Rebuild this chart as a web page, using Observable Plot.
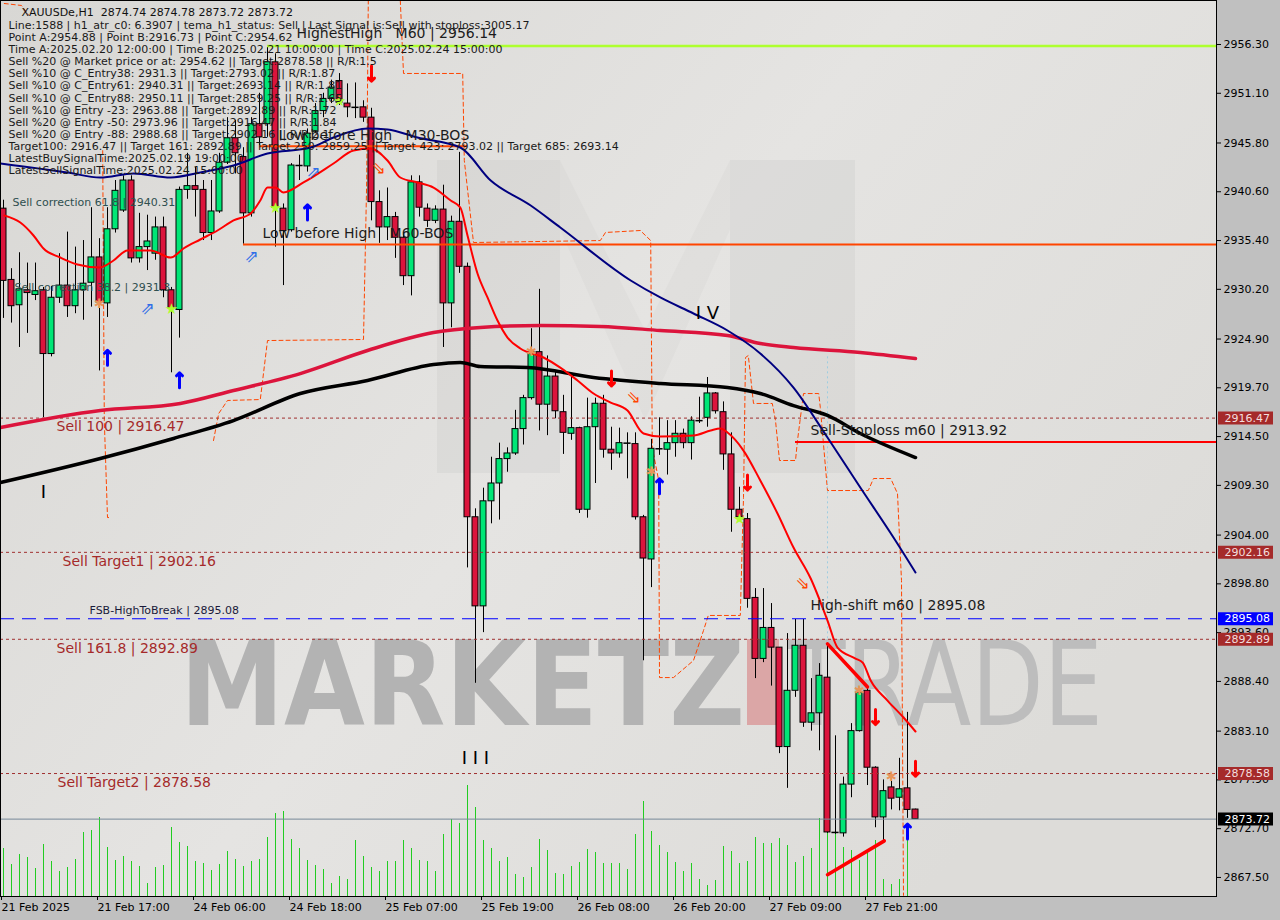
<!DOCTYPE html>
<html><head><meta charset="utf-8">
<script src="https://cdn.jsdelivr.net/npm/d3@7"></script>
<script src="https://cdn.jsdelivr.net/npm/@observablehq/plot@0.6"></script>
<style>
html,body{margin:0;padding:0;background:#c0c0c0;overflow:hidden}
#chart svg{display:block}
#chart text{white-space:pre}
</style></head><body><div id="chart"></div>
<script>
// ---------- DATA ----------
const opens  = [2938.8,2931.2,2928.5,2930.1,2929.6,2930.1,2923.3,2929.3,2930.6,2928.4,2930.1,2930.9,2933.6,2928.7,2936.6,2938.6,2941.8,2933.5,2934.7,2934.0,2936.8,2930.1,2928.0,2940.8,2941.2,2940.8,2936.2,2938.5,2943.7,2946.3,2944.3,2938.3,2947.8,2947.8,2954.4,2938.8,2936.5,2943.4,2943.3,2947.0,2949.2,2950.5,2952.4,2950.0,2949.6,2949.6,2948.5,2939.5,2936.8,2937.9,2935.7,2931.6,2941.6,2938.8,2937.5,2938.7,2928.7,2937.4,2932.6,2905.9,2896.4,2907.6,2909.5,2912.1,2912.7,2915.3,2918.6,2923.5,2917.9,2920.9,2917.1,2914.8,2915.4,2906.7,2915.5,2918.0,2913.1,2912.7,2913.8,2913.7,2905.9,2901.4,2913.2,2913.1,2913.8,2914.8,2913.8,2916.2,2916.5,2919.1,2917.1,2912.6,2906.7,2905.7,2897.3,2890.8,2894.1,2892.0,2881.4,2887.4,2892.2,2884.0,2885.0,2888.8,2872.3,2872.2,2877.4,2883.1,2887.4,2879.2,2873.9,2877.1,2876.0,2877.0,2874.74];
const highs  = [2939.7,2932.4,2934.1,2933.0,2933.0,2930.4,2930.5,2934.0,2936.3,2934.7,2935.4,2938.9,2935.6,2938.9,2941.8,2942.3,2942.3,2938.3,2938.1,2937.9,2937.9,2930.4,2941.1,2944.7,2943.2,2941.8,2941.8,2944.7,2948.5,2948.2,2945.3,2948.5,2951.1,2956.14,2955.3,2939.3,2943.6,2944.5,2947.3,2950.0,2951.1,2952.5,2953.2,2952.1,2952.2,2950.3,2949.5,2940.7,2941.0,2938.4,2936.2,2942.3,2942.3,2939.3,2939.1,2941.3,2938.0,2944.8,2933.0,2906.8,2909.0,2912.3,2913.8,2913.3,2917.3,2918.9,2926.0,2930.2,2923.1,2921.5,2918.9,2921.0,2915.5,2918.6,2918.6,2918.9,2915.5,2915.4,2914.9,2914.9,2906.1,2914.2,2916.5,2916.2,2916.2,2915.3,2916.6,2918.7,2920.8,2919.2,2918.2,2914.9,2909.1,2906.3,2898.3,2898.3,2896.7,2892.0,2893.5,2895.0,2895.0,2888.7,2890.3,2892.4,2882.6,2878.2,2883.9,2887.8,2887.8,2879.3,2877.9,2878.2,2880.2,2885.1,2874.78];
const lows   = [2927.1,2926.6,2924.0,2925.5,2929.0,2916.5,2923.0,2928.7,2927.2,2927.6,2926.9,2928.3,2921.5,2927.2,2936.2,2938.4,2933.0,2933.0,2932.2,2933.3,2929.3,2921.3,2925.0,2939.8,2937.9,2935.4,2935.4,2938.3,2943.5,2942.5,2935.0,2937.9,2945.5,2946.4,2934.7,2930.6,2936.3,2941.8,2942.7,2946.8,2948.5,2950.0,2949.8,2948.5,2948.4,2948.0,2937.5,2935.1,2935.4,2933.5,2930.6,2929.5,2937.9,2936.8,2937.2,2924.0,2926.1,2931.9,2900.5,2888.2,2893.6,2905.2,2905.6,2910.7,2912.5,2913.6,2918.4,2915.1,2914.6,2916.4,2912.6,2914.1,2906.3,2905.8,2909.5,2912.2,2910.9,2912.2,2910.0,2905.6,2890.6,2898.4,2912.5,2910.4,2912.3,2913.2,2912.0,2915.9,2915.5,2916.9,2910.9,2904.3,2905.6,2896.2,2888.7,2890.4,2887.9,2880.7,2877.0,2886.7,2883.5,2883.1,2881.0,2872.2,2872.1,2871.8,2876.0,2883.0,2877.3,2872.8,2871.4,2874.7,2874.6,2873.8,2873.72];
const closes = [2931.1,2928.4,2930.2,2929.8,2930.0,2923.3,2929.3,2930.6,2928.4,2930.1,2930.8,2933.6,2928.8,2936.6,2940.7,2941.8,2933.5,2934.7,2935.3,2936.8,2930.1,2928.2,2940.8,2941.2,2940.8,2936.2,2938.5,2943.7,2946.3,2944.7,2938.3,2947.8,2946.4,2954.4,2938.9,2936.4,2943.4,2943.3,2946.8,2949.2,2950.5,2951.7,2950.1,2949.6,2949.5,2948.5,2939.5,2936.8,2937.9,2935.7,2931.6,2941.6,2938.9,2937.5,2938.7,2928.7,2937.4,2932.6,2905.9,2896.4,2907.6,2909.5,2912.1,2912.7,2915.3,2918.6,2923.5,2917.9,2920.9,2917.2,2914.9,2915.4,2906.7,2915.5,2918.0,2913.1,2912.7,2913.8,2913.7,2905.9,2901.5,2913.2,2913.1,2913.8,2914.8,2913.8,2916.2,2916.2,2919.1,2917.2,2912.6,2906.7,2905.9,2897.2,2890.8,2894.1,2892.0,2881.4,2887.4,2892.2,2884.0,2885.0,2889.0,2872.3,2872.2,2877.4,2883.1,2887.2,2879.2,2873.9,2876.7,2875.9,2876.9,2874.7,2873.72];
const volumes = [4830,3230,4200,3900,2800,5200,3530,2500,2900,3700,6370,6600,7900,4900,3600,4000,3500,3000,1300,2870,3130,6900,5370,5030,3470,3270,2600,3200,4470,3700,3000,3500,3700,5930,8300,8500,5700,4770,3600,3100,2700,1330,2000,1670,5570,4030,2900,2470,3500,3500,5600,4830,3600,3500,2530,6200,7730,7300,11100,8900,5600,4770,3500,3900,2170,1900,2930,5700,4570,2270,2230,3000,3430,4670,4430,3270,3270,3270,2700,6170,9500,6530,5100,4430,3430,2530,3270,1730,1100,1600,5000,4500,3270,3500,5930,5330,5270,5800,5100,3430,4000,4770,7770,8770,7930,4930,4600,3600,4600,5600,1700,1200,1730,5930];

const timeTickIdx = [0,12,24,36,48,60,72,84,96,108];
const timeLabels = ["21 Feb 2025","21 Feb 17:00","24 Feb 06:00","24 Feb 18:00","25 Feb 07:00","25 Feb 19:00","26 Feb 08:00","26 Feb 20:00","27 Feb 09:00","27 Feb 21:00"];
const priceTicks = [2956.30,2951.10,2945.80,2940.60,2935.40,2930.20,2924.90,2919.70,2914.50,2909.30,2904.00,2898.80,2893.60,2888.40,2883.10,2877.90,2872.70,2867.50];

// indicator lines: [bar index, price]
const ma100 = [[-0.375,2915.47],[12.1,2917.28],[22.1,2918.03],[28.75,2919.41],[37.1,2921.22],[45.5,2923.68],[53.75,2925.59],[59.6,2926.13],[67.1,2926.34],[74.6,2926.24],[82.1,2925.81],[90.5,2925.28],[94.6,2924.42],[98.75,2923.99],[107.1,2923.46],[114,2922.82]];
const ma200 = [[-0.375,2909.60],[12.1,2912.16],[21.25,2914.30],[28.75,2916.21],[37.1,2919.09],[45.5,2920.48],[53.75,2922.18],[57.1,2922.40],[59.6,2921.97],[65.5,2921.86],[73.75,2920.80],[82.1,2920.16],[90.5,2919.73],[94.6,2919.09],[98.75,2917.81],[103,2916.75],[107.1,2914.83],[114,2912.27]];
const maNavy = [[-0.375,2943.61],[8,2942.65],[12.1,2942.12],[16.25,2942.55],[20.9,2942.12],[24.6,2942.65],[28.75,2943.40],[33,2944.68],[38.4,2945.32],[41.25,2946.38],[45.5,2947.34],[48,2947.24],[51.75,2946.38],[57.1,2945.32],[60.9,2941.80],[65.9,2939.13],[69.6,2936.79],[78.4,2931.14],[82.1,2929.33],[86.25,2927.62],[90.5,2925.81],[94.6,2923.36],[98.75,2919.73],[103,2914.40],[107.1,2909.07],[111.25,2903.74],[114,2900.01]];
const emaRed = [[0.1,2938.07],[2.1,2937.32],[3.75,2935.94],[5,2934.55],[7.1,2933.59],[9.25,2932.84],[12,2932.52],[13.75,2933.27],[15.5,2934.34],[18.4,2934.34],[20.9,2933.59],[22.5,2934.55],[24.6,2935.51],[26.75,2936.47],[28.75,2937.54],[30.9,2938.28],[32.1,2939.67],[33,2941.05],[34,2941.05],[35,2940.52],[37.5,2941.59],[41.25,2943.61],[43.75,2945.00],[45.9,2945.21],[48,2943.93],[49.6,2942.12],[51.75,2941.59],[53.75,2941.05],[55.9,2939.67],[57.1,2938.92],[58,2935.94],[59.25,2931.88],[60.5,2929.33],[61.75,2926.87],[63,2925.06],[64.6,2923.89],[67.5,2922.93],[69.6,2921.86],[71.75,2920.48],[73.75,2919.09],[75.9,2918.13],[78,2917.28],[80,2914.83],[82.1,2914.51],[86.25,2914.62],[88.4,2915.15],[89.6,2915.36],[90.5,2914.93],[92.5,2913.01],[94.6,2909.82],[96.75,2906.30],[98.75,2902.67],[100.9,2899.37],[103,2894.89],[104.25,2892.01],[106.5,2890.84],[107.4,2890.41],[108.4,2888.49],[110.5,2886.36],[112.5,2884.55],[114,2883.06]];
// ATR step channel (dashed)
const stepSegments = [
  [[0.1,2960.67],[2.25,2960.46],[3.1,2959.50]],
  [[12.4,2944.98],[12.6,2916.21],[13,2905.87],[13.5,2905.87]],
  [[26.25,2914.08],[26.9,2916.96],[28,2918.35],[32.1,2918.45],[33,2924.74],[45,2924.85],[45.4,2941.80],[45.6,2960.99]],
  [[49.6,2960.99],[50,2953.21],[57.4,2953.21],[57.6,2943.93],[58.75,2935.19],[74.6,2935.40],[75.25,2936.26],[79.6,2936.47],[80.9,2935.40],[81.1,2913.33],[81.9,2909.82],[82,2888.81],[83.75,2888.81],[86.25,2890.63],[87.5,2893.83],[88.1,2895.43],[92.1,2895.43],[92.5,2908.00],[92.75,2922.93],[93.1,2923.14],[93.75,2918.03],[96.1,2918.03],[96.5,2916.21],[97,2911.95],[99,2911.95],[99.25,2914.08],[100,2919.09],[101.9,2919.09],[102.1,2917.60],[103,2908.75],[108.1,2908.75],[108.75,2910.03],[110.9,2910.03],[111.75,2908.43],[112.25,2899.16],[112.5,2865.6]]
];
const trendLines = [[[103,2892.4],[108,2887.8]],[[103,2867.8],[110.1,2871.4]]];

// levels
const sell100 = 2916.47, sellTarget1 = 2902.16, sell1618 = 2892.89, sellTarget2 = 2878.58;
const fsbHigh = 2895.08, bidPrice = 2873.72;
const highestHigh = 2956.14, m30Bos = 2945.46, m60Bos = 2934.98, stopLoss = 2913.92;
const corr618 = 2940.31, corr382 = 2931.3;
const highestHighBar = 33, m30Start = 32, m30End = 58, m60Start = 30, stopStart = 99, shiftBar = 103;

// signal markers [bar index, price]
const buyArrows  = [[13,2922.9],[22,2920.5],[38,2938.4],[82,2909.2],[113,2872.4]];
const sellArrows = [[46,2953.2],[76,2920.7],[93,2909.6],[109,2884.6],[114,2879.1]];
const buyHollow  = [[18,2928.2],[31,2933.7],[38.75,2942.7]];
const sellHollow = [[46.9,2943.1],[78.75,2918.7],[99.9,2898.8]];
const stars      = [[21,2928.1],[34,2938.9],[42,2950.3],[92,2905.7]];
const crosses    = [[12,2928.6],[66,2923.5],[81,2910.7],[107,2887.4],[111,2878.2]];
const waves = [["I",5,2908.6],["I I I",59,2880.2],["I V",88,2927.7]];

const headerLine = "XAUUSDe,H1  2874.74 2874.78 2873.72 2873.72";
const infoLines = [
 "Line:1588 | h1_atr_c0: 6.3907 | tema_h1_status: Sell | Last Signal is:Sell with stoploss:3005.17",
 "Point A:2954.88 | Point B:2916.73 | Point C:2954.62",
 "Time A:2025.02.20 12:00:00 | Time B:2025.02.21 10:00:00 | Time C:2025.02.24 15:00:00",
 "Sell %20 @ Market price or at: 2954.62 || Target:2878.58 || R/R:1.5",
 "Sell %10 @ C_Entry38: 2931.3 || Target:2793.02 || R/R:1.87",
 "Sell %10 @ C_Entry61: 2940.31 || Target:2693.14 || R/R:1.81",
 "Sell %10 @ C_Entry88: 2950.11 || Target:2859.25 || R/R:1.65",
 "Sell %10 @ Entry -23: 2963.88 || Target:2892.89 || R/R:1.72",
 "Sell %20 @ Entry -50: 2973.96 || Target:2916.47 || R/R:1.84",
 "Sell %20 @ Entry -88: 2988.68 || Target:2902.16 || R/R:2.1",
 "Target100: 2916.47 || Target 161: 2892.89 || Target 250: 2859.25 || Target 423: 2793.02 || Target 685: 2693.14",
 "LatestBuySignalTime:2025.02.19 19:00:00",
 "LatestSellSignalTime:2025.02.24 15:00:00"
];
const priceTags = [[sell100,"#a52a2a"],[sellTarget1,"#a52a2a"],[fsbHigh,"#0000ff"],[sell1618,"#a52a2a"],[sellTarget2,"#a52a2a"],[bidPrice,"#000000"]];

// ---------- CHART ----------
const W = 1280, H = 920, mR = 64, mB = 24;
const yMin = 2865.47, yMax = 2960.99;
const barPx = 8;
const xMin = -0.375, xMax = xMin + (W - mR) / barPx;
const plotH = H - mB;
const volK = (yMax - yMin) / plotH * 111 / d3.max(volumes);
const halfPx = 0.5 / barPx;

const bars = opens.map((o, i) => ({i, o, h: highs[i], l: lows[i], c: closes[i]}));
const vols = volumes.map((v, i) => ({i, v}));
const pts = a => a.map(([i, p]) => ({i, p}));
const steps = stepSegments.flatMap((s, k) => s.map(([i, p]) => ({k, i, p})));
const trends = trendLines.flatMap((s, k) => s.map(([i, p]) => ({k, i, p})));
const dojis = bars.filter(d => Math.abs(d.o - d.c) < 0.15);
const F = "DejaVu Sans";

function lbl(text, y, dx, dy, size, fill) {
  return Plot.text([text], {y: () => y, frameAnchor: "left", dx, dy, text: d => d, textAnchor: "start",
    fontSize: size, fill, fontFamily: F});
}

const chart = Plot.plot({
  width: W, height: H,
  marginLeft: 0, marginRight: mR, marginTop: 0, marginBottom: mB,
  x: {type: "linear", domain: [xMin, xMax]},
  y: {domain: [yMin, yMax]},
  color: {type: "identity"},
  style: {background: "#c0c0c0", fontFamily: F, fontSize: "11px", color: "#000"},
  marks: [
    Plot.frame({fill: "#dedddb"}),
    // volumes (1px green bars)
    Plot.rect(vols, {x1: d => d.i - halfPx, x2: d => d.i + halfPx, y1: () => yMin, y2: d => yMin + d.v * volK,
      fill: "#22cc22", shapeRendering: "crispEdges"}),
    // ATR step channel
    Plot.line(steps, {x: "i", y: "p", z: "k", stroke: "#ff4500", strokeWidth: 1, strokeDasharray: "4,3"}),
    Plot.ruleX([shiftBar], {x: d => d, y1: () => 2923.0, y2: () => 2892.0, stroke: "#9ecde0", strokeDasharray: "2,3"}),
    // candles
    Plot.ruleX(bars, {x: "i", y1: "l", y2: "h", stroke: "#000", strokeWidth: 1}),
    Plot.rect(bars.filter(d => Math.abs(d.o - d.c) >= 0.15), {x1: d => d.i - 0.375, x2: d => d.i + 0.375, y1: "o", y2: "c",
      fill: d => d.c > d.o ? "#00e676" : "#dc143c", stroke: "#000", strokeWidth: 1}),
    Plot.ruleY(dojis, {y: "o", x1: d => d.i - 0.45, x2: d => d.i + 0.45, stroke: "#000", strokeWidth: 1.5}),
    // levels
    Plot.ruleY([sell100, sellTarget1, sell1618, sellTarget2], {stroke: "#a03030", strokeDasharray: "3,3", strokeWidth: 1}),
    Plot.ruleY([fsbHigh], {stroke: "#0000ff", strokeDasharray: "14,8", strokeWidth: 1.2}),
    Plot.ruleY([bidPrice], {stroke: "#778899", strokeWidth: 1}),
    Plot.ruleY([highestHigh], {x1: () => highestHighBar, x2: () => xMax, stroke: "#adff2f", strokeWidth: 2.5}),
    Plot.ruleY([m30Bos], {x1: () => m30Start, x2: () => m30End, stroke: "#ff4500", strokeWidth: 2}),
    Plot.ruleY([m60Bos], {x1: () => m60Start, x2: () => xMax, stroke: "#ff4500", strokeWidth: 2}),
    Plot.ruleY([stopLoss], {x1: () => stopStart, x2: () => xMax, stroke: "#ff0000", strokeWidth: 2}),
    // moving averages
    Plot.line(pts(ma100), {x: "i", y: "p", stroke: "#dc143c", strokeWidth: 3.5, curve: "monotone-x"}),
    Plot.line(pts(ma200), {x: "i", y: "p", stroke: "#000000", strokeWidth: 3.5, curve: "monotone-x"}),
    Plot.line(pts(maNavy), {x: "i", y: "p", stroke: "#000080", strokeWidth: 2, curve: "monotone-x"}),
    Plot.line(pts(emaRed), {x: "i", y: "p", stroke: "#ff0000", strokeWidth: 2, curve: "monotone-x"}),
    Plot.line(trends, {x: "i", y: "p", z: "k", stroke: "#ff0000", strokeWidth: 3.5}),
    // markers
    Plot.vector(pts(buyArrows), {x: "i", y: "p", length: 15, rotate: 0, shape: "arrow", stroke: "#0000ff", strokeWidth: 3}),
    Plot.vector(pts(sellArrows), {x: "i", y: "p", length: 15, rotate: 180, shape: "arrow", stroke: "#ff0000", strokeWidth: 3}),
    Plot.text(pts(buyHollow), {x: "i", y: "p", text: () => "⇗", fill: "#2f6fe8", fontSize: 17, fontFamily: F}),
    Plot.text(pts(sellHollow), {x: "i", y: "p", text: () => "⇘", fill: "#ff4500", fontSize: 17, fontFamily: F}),
    Plot.text(pts(stars), {x: "i", y: "p", text: () => "★", fill: "#adff2f", fontSize: 15, fontFamily: F}),
    Plot.text(pts(crosses), {x: "i", y: "p", text: () => "✱", fill: "#e8955a", fontSize: 13, fontFamily: F}),
    Plot.text(waves, {x: d => d[1], y: d => d[2], text: d => d[0], fontSize: 18, fill: "#000", fontFamily: F}),
    // labels
    lbl("HighestHigh   M60 | " + highestHigh.toFixed(2), highestHigh, 296, -12, 14, "#1c1c1c"),
    lbl("Low before High   M30-BOS", m30Bos, 278, -11, 14, "#1c1c1c"),
    lbl("Low before High   M60-BOS", m60Bos, 262, -11, 14, "#1c1c1c"),
    lbl("Sell correction 61.8 | " + corr618, corr618, 12, 8, 11, "#2f4f4f"),
    lbl("Sell correction 38.2 | " + corr382, corr382, 14, 8, 11, "#2f4f4f"),
    lbl("Sell 100 | " + sell100, sell100, 56, 8, 14, "#a52a2a"),
    lbl("Sell Target1 | " + sellTarget1, sellTarget1, 62, 9, 14, "#a52a2a"),
    lbl("FSB-HighToBreak | " + fsbHigh, fsbHigh, 89, -8, 11, "#1a1a3a"),
    lbl("Sell 161.8 | " + sell1618, sell1618, 56, 9, 14, "#a52a2a"),
    lbl("Sell Target2 | " + sellTarget2, sellTarget2, 57, 9, 14, "#a52a2a"),
    lbl("Sell-Stoploss m60 | " + stopLoss, stopLoss, 810, -12, 14, "#1c1c1c"),
    lbl("High-shift m60 | " + fsbHigh, fsbHigh, 810, -13, 14, "#1c1c1c"),
    // info block
    Plot.text([headerLine], {frameAnchor: "top-left", dx: 21, dy: 12, lineAnchor: "middle", text: d => d, fontSize: 11, fill: "#111", fontFamily: F}),
    Plot.text([infoLines.join("\n")], {frameAnchor: "top-left", dx: 8, dy: 20, lineAnchor: "top", lineHeight: 1.098, text: d => d, fontSize: 11, fill: "#1a1a1a", fontFamily: F}),
    // axes
    Plot.axisX(timeTickIdx, {anchor: "bottom", tickSize: 4, tickPadding: 3, tickFormat: d => timeLabels[timeTickIdx.indexOf(d)], textAnchor: "start", dx: -2, fontSize: 11, label: null}),
    Plot.axisY(priceTicks, {anchor: "right", tickSize: 4, tickPadding: 3, tickFormat: d => d.toFixed(2), fontSize: 11, label: null}),
    // price tags on the axis
    Plot.ruleY(priceTags, {y: d => d[0], x1: () => xMax + 2 / barPx, x2: () => xMax + 57 / barPx, stroke: d => d[1], strokeWidth: 13}),
    Plot.text(priceTags, {y: d => d[0], frameAnchor: "right", dx: 8, textAnchor: "start", text: d => d[0].toFixed(2),
      fill: d => d[1] === "#a52a2a" ? "#f3dede" : "#ffffff", fontSize: 11, fontFamily: F}),
    Plot.frame({stroke: "#000", strokeWidth: 1})
  ]
});
document.getElementById("chart").append(chart);

// ---------- decoration (background gradient + watermark) ----------
const ns = "http://www.w3.org/2000/svg";
const svg = d3.select(chart);
const defs = svg.insert("defs", ":first-child");
const gr = defs.append("linearGradient").attr("id", "bgGrad").attr("x1", "0").attr("y1", "0").attr("x2", "1").attr("y2", "0.6");
gr.append("stop").attr("offset", "0").attr("stop-color", "#d8d7d4");
gr.append("stop").attr("offset", "0.55").attr("stop-color", "#e5e4e2");
gr.append("stop").attr("offset", "1").attr("stop-color", "#dddcd9");
const frameNode = chart.querySelector('[aria-label="frame"]');
frameNode.setAttribute("fill", "url(#bgGrad)");
const wmNode = document.createElementNS(ns, "g");
frameNode.after(wmNode);
const wm = d3.select(wmNode).attr("pointer-events", "none").attr("text-anchor", "start");
wm.append("rect").attr("x", 437).attr("y", 160).attr("width", 123).attr("height", 313).attr("fill", "#000").attr("opacity", 0.035);
wm.append("rect").attr("x", 730).attr("y", 160).attr("width", 125).attr("height", 313).attr("fill", "#000").attr("opacity", 0.035);
wm.append("polygon").attr("points", "560,160 645,330 730,160 730,230 645,420 560,230").attr("fill", "#000").attr("opacity", 0.02);
wm.append("text").attr("x", 180).attr("y", 725).attr("text-anchor", "start").attr("font-family", "DejaVu Sans").attr("font-weight", "bold")
  .attr("font-size", 118).attr("textLength", 565).attr("lengthAdjust", "spacingAndGlyphs").attr("fill", "#b3b3b3").text("MARKETZ");
wm.append("rect").attr("x", 747).attr("y", 639).attr("width", 32).attr("height", 86).attr("fill", "#dba6a6");
wm.append("text").attr("x", 788).attr("y", 725).attr("text-anchor", "start").attr("font-family", "DejaVu Sans")
  .attr("font-size", 118).attr("textLength", 315).attr("lengthAdjust", "spacingAndGlyphs").attr("fill", "#bdbdbd").text("TRADE");
</script></body></html>
